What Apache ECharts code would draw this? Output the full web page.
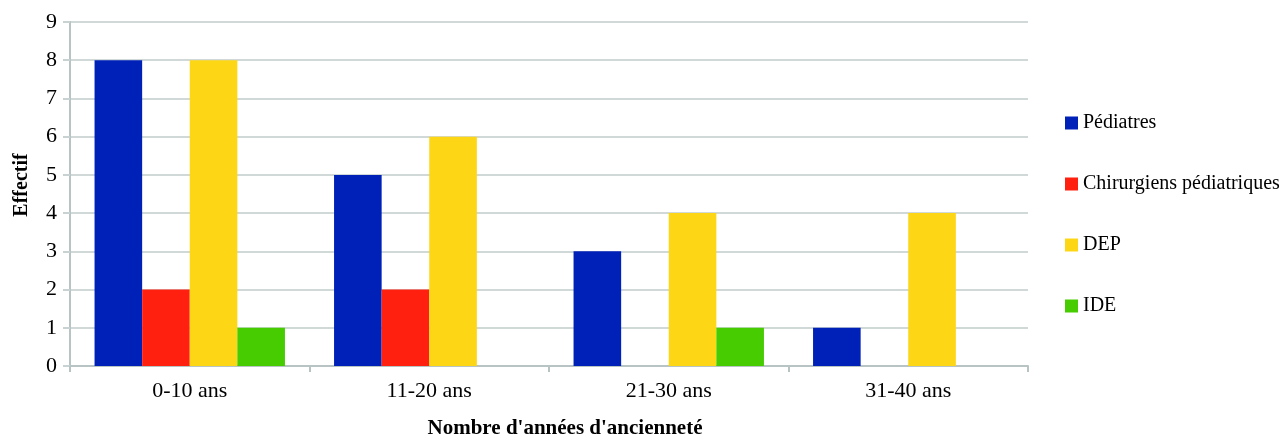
<!DOCTYPE html>
<html><head><meta charset="utf-8">
<script src="https://cdn.jsdelivr.net/npm/echarts@6/dist/echarts.min.js"></script>
<style>html,body{margin:0;padding:0;background:#fff}#c{width:1287px;height:434px}</style>
</head><body><div id="c"></div>
<script>
const categories = ['0-10 ans', '11-20 ans', '21-30 ans', '31-40 ans'];
const seriesNames = ['Pédiatres', 'Chirurgiens pédiatriques', 'DEP', 'IDE'];
const pediatres = [8, 5, 3, 1];
const chirurgiens = [2, 2, 0, 0];
const dep = [8, 6, 4, 4];
const ide = [1, 0, 1, 0];
const yTicks = [0, 1, 2, 3, 4, 5, 6, 7, 8, 9];
const colors = ['#0021b8', '#ff2010', '#fdd615', '#46cc00'];
const values = [pediatres, chirurgiens, dep, ide];

const font = '"Liberation Serif", "Times New Roman", serif';
const chart = echarts.init(document.getElementById('c'), null, {renderer: 'canvas'});
chart.setOption({
  animation: false,
  textStyle: {fontFamily: font},
  grid: {left: 70, right: 259, top: 22, bottom: 68, containLabel: false, outerBoundsMode: 'none'},
  legend: {
    orient: 'vertical', left: 1060, top: 107,
    itemWidth: 13, itemHeight: 13, itemGap: 39, icon: 'rect',
    textStyle: {fontFamily: font, fontSize: 20, color: '#000', lineHeight: 22},
    data: seriesNames
  },
  xAxis: {
    type: 'category', data: categories,
    name: "Nombre d'années d'ancienneté", nameLocation: 'middle', nameGap: 52,
    nameTextStyle: {fontFamily: font, fontSize: 21, fontWeight: 'bold', color: '#000', padding: [0, 0, 0, 32]},
    axisLine: {lineStyle: {color: '#b8c4c4', width: 2}},
    axisTick: {show: true, length: 6, lineStyle: {color: '#b8c4c4', width: 2}},
    axisLabel: {fontFamily: font, fontSize: 22, color: '#000', margin: 14},
    splitLine: {show: false}
  },
  yAxis: {
    type: 'value', min: yTicks[0], max: yTicks[yTicks.length - 1], interval: 1,
    name: 'Effectif', nameLocation: 'middle', nameGap: 38,
    nameTextStyle: {fontFamily: font, fontSize: 20, fontWeight: 'bold', color: '#000', padding: [0, 0, 0, 18]},
    axisLine: {show: true, lineStyle: {color: '#b8c4c4', width: 2}},
    axisTick: {show: true, length: 7, lineStyle: {color: '#c8d2d2', width: 2}},
    axisLabel: {fontFamily: font, fontSize: 22, color: '#000', margin: 13},
    splitLine: {show: true, lineStyle: {color: '#d0d8d8', width: 2}}
  },
  series: seriesNames.map((n, i) => ({
    name: n, type: 'bar', data: values[i],
    itemStyle: {color: colors[i]},
    barGap: '0%', barCategoryGap: '20.5%'
  }))
});
</script></body></html>
